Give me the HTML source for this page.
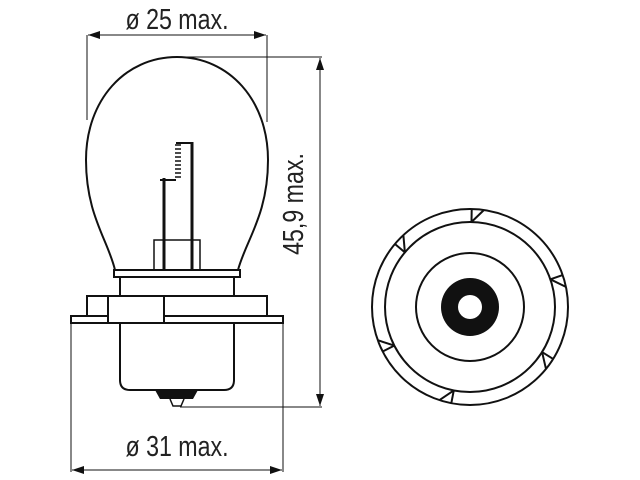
<!DOCTYPE html>
<html><head><meta charset="utf-8"><style>
html,body{margin:0;padding:0;background:#fff;}
svg{display:block}
text{font-family:"Liberation Sans",sans-serif;fill:#222}
</style></head><body>
<svg width="640" height="480" viewBox="0 0 640 480" xmlns="http://www.w3.org/2000/svg">
<defs>
<marker id="a" markerWidth="12" markerHeight="8" refX="12" refY="4" orient="auto-start-reverse" markerUnits="userSpaceOnUse">
<path d="M0,0 L12,4 L0,8 Z" fill="#111"/></marker>
</defs>
<g stroke="#111" fill="none" stroke-width="1">
<line x1="87" y1="35" x2="87" y2="120"/>
<line x1="267" y1="35" x2="267" y2="122"/>
<line x1="88" y1="35" x2="266" y2="35" marker-start="url(#a)" marker-end="url(#a)"/>
<line x1="178" y1="57" x2="322" y2="57"/>
<line x1="180" y1="407" x2="322" y2="407"/>
<line x1="320" y1="58" x2="320" y2="406" marker-start="url(#a)" marker-end="url(#a)"/>
<line x1="71" y1="323" x2="71" y2="472"/>
<line x1="283" y1="323" x2="283" y2="472"/>
<line x1="72" y1="470" x2="282" y2="470" marker-start="url(#a)" marker-end="url(#a)"/>
</g>
<g stroke="#111" fill="none" stroke-width="2">
<path d="M115,270 C108,240 86,215 86,160 C86,100 125,57 177,57 C229,57 268,100 268,160 C268,215 246,240 238,270"/>
<line x1="164" y1="178" x2="164" y2="270" stroke-width="3"/>
<line x1="192" y1="142" x2="192" y2="270" stroke-width="3"/>
<polyline points="160,180 176,180" />
<polyline points="176,143 192,143"/>
<path d="M175,145 h6 M175,149 h6 M175,153 h6 M175,157 h6 M175,161 h6 M175,165 h6 M175,169 h6 M175,173 h6 M175,177 h6" stroke-width="1.5"/>
<rect x="154" y="240" width="46" height="30" stroke-width="1.5"/>
<rect x="114" y="270" width="126" height="7" stroke-width="2"/>
<line x1="120" y1="277" x2="120" y2="296"/>
<line x1="234" y1="277" x2="234" y2="296"/>
<rect x="87" y="296" width="180" height="20"/>
<rect x="71" y="316" width="212" height="7"/>
<rect x="108" y="296" width="56" height="27" fill="#fff"/>
<path d="M120,323 V380 Q120,390 130,390 H224 Q234,390 234,380 V323"/>
</g>
<path d="M155,390 H198 L193,399 H160 Z" fill="#111"/>
<path d="M170,399 L173,406 H181 L184,399" fill="#fff" stroke="#111" stroke-width="1.5"/>
<text font-size="29" text-anchor="middle" transform="translate(177 29) scale(0.8 1)">ø 25 max.</text>
<text font-size="29" text-anchor="middle" transform="translate(177 456) scale(0.8 1)">ø 31 max.</text>
<text font-size="29" text-anchor="middle" transform="translate(303 204) rotate(-90) scale(0.8 1)">45,9 max.</text>
<g stroke="#111" fill="none" stroke-width="2" transform="translate(470 307)">
<circle r="98"/>
<circle r="85"/>
<circle r="54"/>
<circle r="29" fill="#111" stroke="none"/>
<circle r="12" fill="#fff" stroke="none"/>
<g transform="rotate(-89)"><line x1="85" y1="0" x2="98" y2="0"/><line x1="85" y1="0" x2="97" y2="12"/></g>
<g transform="rotate(-140)"><line x1="85" y1="0" x2="98" y2="0"/><line x1="85" y1="0" x2="97" y2="12"/></g>
<g transform="rotate(-19)"><line x1="85" y1="0" x2="98" y2="0"/><line x1="85" y1="0" x2="97" y2="12"/></g>
<g transform="rotate(32)"><line x1="85" y1="0" x2="98" y2="0"/><line x1="85" y1="0" x2="97" y2="12"/></g>
<g transform="rotate(101)"><line x1="85" y1="0" x2="98" y2="0"/><line x1="85" y1="0" x2="97" y2="12"/></g>
<g transform="rotate(153)"><line x1="85" y1="0" x2="98" y2="0"/><line x1="85" y1="0" x2="97" y2="12"/></g>
</g>
</svg>
</body></html>
